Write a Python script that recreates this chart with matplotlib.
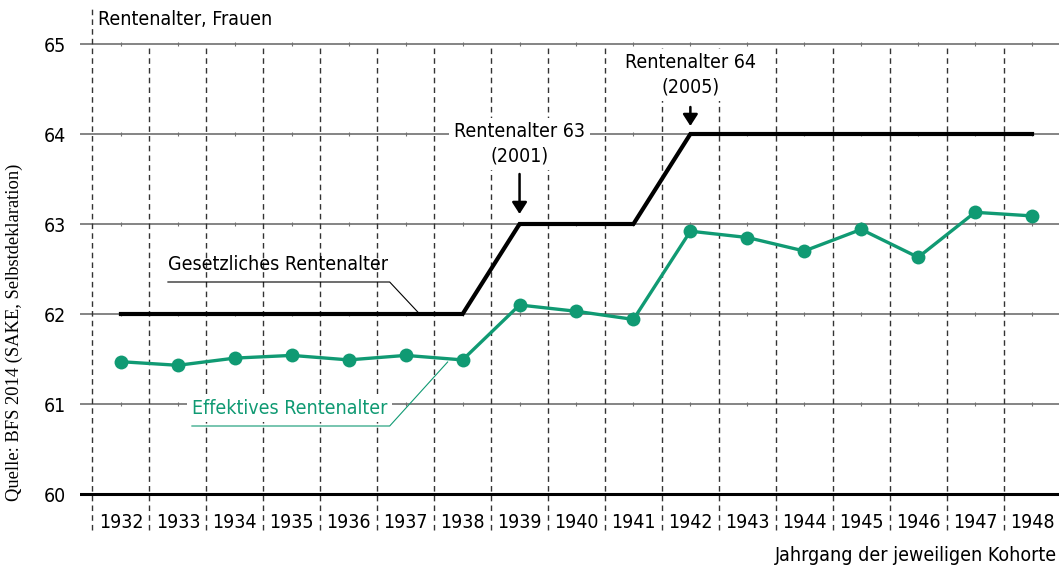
import matplotlib
matplotlib.use("Agg")
import matplotlib.pyplot as plt
from matplotlib import font_manager as fm

# Daten
jahrgaenge = [1932, 1933, 1934, 1935, 1936, 1937, 1938, 1939, 1940,
              1941, 1942, 1943, 1944, 1945, 1946, 1947, 1948]
effektiv = [61.47, 61.43, 61.51, 61.54, 61.49, 61.54, 61.49, 62.10, 62.03,
            61.94, 62.92, 62.85, 62.70, 62.94, 62.63, 63.13, 63.09]
gesetzlich = [62, 62, 62, 62, 62, 62, 62, 63, 63, 63, 64, 64, 64, 64, 64, 64, 64]
y_ticks = [60, 61, 62, 63, 64, 65]

GREEN = "#109a73"

namen = {f.name for f in fm.fontManager.ttflist}
if "Liberation Sans Narrow" in namen:
    FONT = "Liberation Sans Narrow"
    STRETCH = "normal"
else:
    FONT = "DejaVu Sans"
    STRETCH = "condensed"
plt.rcParams["font.family"] = FONT
plt.rcParams["font.stretch"] = STRETCH

fig = plt.figure(figsize=(10.59, 5.70), dpi=100)
ax = fig.add_axes([80 / 1059, 0, 1 - 80 / 1059, 1])

x = list(range(len(jahrgaenge)))
px = 57.0  # Pixel pro Kategorie
ax.set_xlim(-41 / px, len(x) - 1 + 27 / px)
ax.set_ylim(60 - 76 / 90, 65 + 44 / 90)
for s in ax.spines.values():
    s.set_visible(False)
ax.set_xticks([])
ax.set_yticks(y_ticks)
ax.set_yticklabels([str(v) for v in y_ticks], fontsize=14)
ax.tick_params(axis="y", length=0, pad=10)

# Gitterlinien
for v in y_ticks[1:]:
    ax.axhline(v, color="#707070", lw=1.2, zorder=1)
    ax.plot(x, [v] * len(x), ls="none", marker="|", ms=3, mew=0.8,
            color="#707070", zorder=1)
ax.axhline(60, color="black", lw=2.2, zorder=2)

# gestrichelte Kategoriengrenzen
for i in range(len(x)):
    top = 65 + 36 / 90 if i == 0 else 65
    ax.plot([i - 0.5, i - 0.5], [59.6, top], color="#333333", lw=1,
            ls=(0, (4, 3)), zorder=1)

for i, j in enumerate(jahrgaenge):
    ax.text(i, 60 - 28 / 90, str(j), ha="center", va="center", fontsize=14)

# Linien
ax.plot(x, gesetzlich, color="black", lw=3, solid_joinstyle="miter", zorder=4)
ax.plot(x, effektiv, color=GREEN, lw=2.4, marker="o", ms=10,
        markeredgewidth=0, zorder=5)

white = dict(boxstyle="square,pad=0.25", fc="white", ec="none")

ax.text(-0.4, 65 + 25 / 90, "Rentenalter, Frauen", ha="left", va="center",
        fontsize=14)
ax.text(len(x) - 1 + 25 / px, 60 - 61 / 90, "Jahrgang der jeweiligen Kohorte",
        ha="right", va="center", fontsize=14)

# Annotationen
ax.text(7, 64 - 10 / 90, "Rentenalter 63\n(2001)", ha="center", va="center",
        fontsize=14, linespacing=1.35, bbox=white, zorder=3)
ax.annotate("", xy=(7, 63 + 10 / 90), xytext=(7, 63 + 50 / 90),
            arrowprops=dict(arrowstyle="-|>,head_width=0.45,head_length=0.7",
                            color="black", lw=1.8, shrinkA=0, shrinkB=0),
            zorder=6)
ax.text(10, 65 - 31 / 90, "Rentenalter 64\n(2005)", ha="center", va="center",
        fontsize=14, linespacing=1.35, bbox=white, zorder=3)
ax.annotate("", xy=(10, 64 + 8 / 90), xytext=(10, 64 + 27 / 90),
            arrowprops=dict(arrowstyle="-|>,head_width=0.45,head_length=0.7",
                            color="black", lw=1.8, shrinkA=0, shrinkB=0),
            zorder=6)

ax.text(47 / px, 62 + 50 / 90, "Gesetzliches Rentenalter", ha="left",
        va="center", fontsize=14, zorder=3)
ax.plot([47 / px, 269 / px, 299 / px], [62 + 32 / 90, 62 + 32 / 90, 62],
        color="black", lw=0.8, zorder=3)

ax.text(71 / px, 61 - 4 / 90, "Effektives Rentenalter", ha="left",
        va="center", fontsize=14, color=GREEN, bbox=white, zorder=3)
ax.plot([71 / px, 269 / px, 327 / px], [61 - 22 / 90, 61 - 22 / 90, 61 + 42 / 90],
        color=GREEN, lw=0.8, zorder=3)

fig.text(14 / 1059, 1 - 332 / 570, "Quelle: BFS 2014 (SAKE, Selbstdeklaration)",
         rotation=90, ha="center", va="center", fontsize=13.3,
         family="Liberation Serif", stretch="normal")

fig.savefig("out.png", dpi=100)
